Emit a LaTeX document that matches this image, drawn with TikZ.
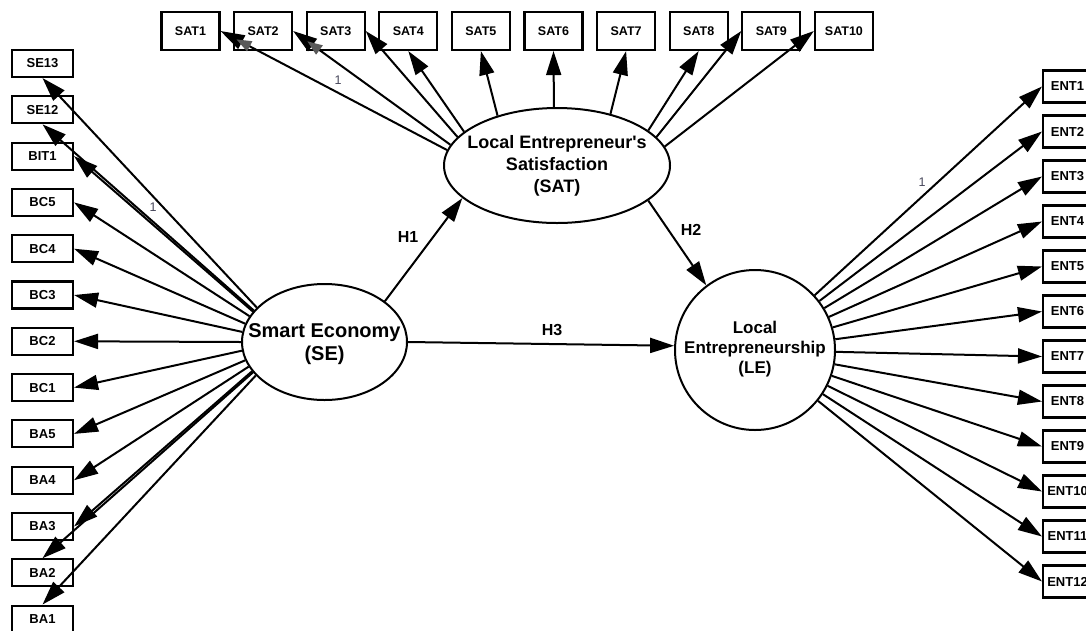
\documentclass[tikz,border=0pt]{standalone}
\usepackage{fontspec}
\setmainfont{Liberation Sans}
\usetikzlibrary{arrows.meta,shapes.geometric,decorations.markings}
\definecolor{onecol}{RGB}{70,70,90}

\begin{document}
\begin{tikzpicture}[x=1pt,y=-1pt,
  obs/.style={draw, line width=2.1pt, fill=white, inner sep=0pt,
    font=\bfseries\fontsize{13}{13}\selectfont},
  leftbox/.style={obs, minimum width=61pt, minimum height=27pt},
  topbox/.style={obs, minimum width=58pt, minimum height=38pt,
    font=\bfseries\fontsize{12.5}{12.5}\selectfont},
  rightbox/.style={obs, minimum width=49pt, minimum height=32pt},
  latent/.style={draw, line width=2pt, fill=white, ellipse, inner sep=0pt},
  conn/.style={line width=2pt, -{Triangle[length=24pt,width=15pt]}},
  ghosthead/.style={postaction={decorate, decoration={markings,
    mark=at position #1 with {\arrow[black!65]{Triangle[length=15pt,width=11pt]}}}}},
  hyp/.style={font=\bfseries\fontsize{16}{16}\selectfont},
  fixed/.style={font=\fontsize{12.5}{12.5}\selectfont, text=onecol, inner sep=0pt},
]
\useasboundingbox (0,0) rectangle (1086,630);

% latent variables
\node[latent, minimum width=165pt, minimum height=116pt,
  label={[font=\bfseries\fontsize{20}{23}\selectfont, align=center, yshift=-2pt]center:Smart Economy\\(SE)}]
  (SE) at (324.5,342) {};
\node[latent, minimum width=226pt, minimum height=115pt,
  label={[font=\bfseries\fontsize{18}{22}\selectfont, align=center]center:Local Entrepreneur\textquotesingle s\\Satisfaction\\(SAT)}]
  (SAT) at (557,165.5) {};
\node[latent, circle, minimum size=160pt,
  label={[font=\bfseries\fontsize{17}{20}\selectfont, align=center, yshift=1pt]center:Local\\Entrepreneurship\\(LE)}]
  (LE) at (755,350) {};

% indicators of SE (left column)
\foreach \n [count=\i from 0] in {SE13,SE12,BIT1,BC5,BC4,BC3,BC2,BC1,BA5,BA4,BA3,BA2,BA1}
  \node[leftbox] (\n) at (42.5,63.5+46.3*\i) {\n};

% indicators of SAT (top row)
\foreach \i in {1,...,10}
  \node[topbox] (SAT\i) at (190.5+72.6*\i-72.6,31) {SAT\i};

% indicators of LE (right column)
\foreach \i in {1,...,12}
  \node[rightbox] (ENT\i) at (1067.5,86.5+45*\i-45) {ENT\i};

% SE loadings
\foreach \n/\a/\s in {SE13/153.7/south, SE12/156.8/south, BIT1/157.3/east,
    BC5/161.7/east, BC4/167/east, BC3/173.2/east, BC2/180/east,
    BC1/186.8/east, BA5/193/east, BA4/198.3/east, BA3/202.7/east,
    BA2/203.2/north, BA1/206.3/north}
  \draw[conn] (SE.\a) -- (\n.\s);

% SAT loadings
\draw[conn, ghosthead=0.93] (SAT.172) -- (SAT1.east);
\draw[conn, ghosthead=0.91] (SAT.169) -- (SAT2.east);
\foreach \n/\a/\s in {SAT3/164/east, SAT4/160/south, SAT5/140/south,
    SAT6/93.5/south, SAT7/44/south, SAT8/21/south, SAT9/16/west, SAT10/10.5/west}
  \draw[conn] (SAT.\a) -- (\n.\s);

% LE loadings
\foreach \i in {1,...,12}
  \draw[conn] (LE) -- (ENT\i.west);

% structural paths
\draw[conn] (SE.34) -- (SAT.199);
\draw[conn] (SAT.339) -- (LE.127.6);
\draw[conn] (SE.east) -- (LE.177);

% path labels
\node[hyp] (h1) at (408,237) {H1};
\node[hyp] (h2) at (691,230) {H2};
\node[hyp] (h3) at (552,330) {H3};

% fixed loadings
\node[fixed] (f1) at (153,207) {1};
\node[fixed] (f2) at (338,80) {1};
\node[fixed] (f3) at (922,182) {1};
\end{tikzpicture}
\end{document}
